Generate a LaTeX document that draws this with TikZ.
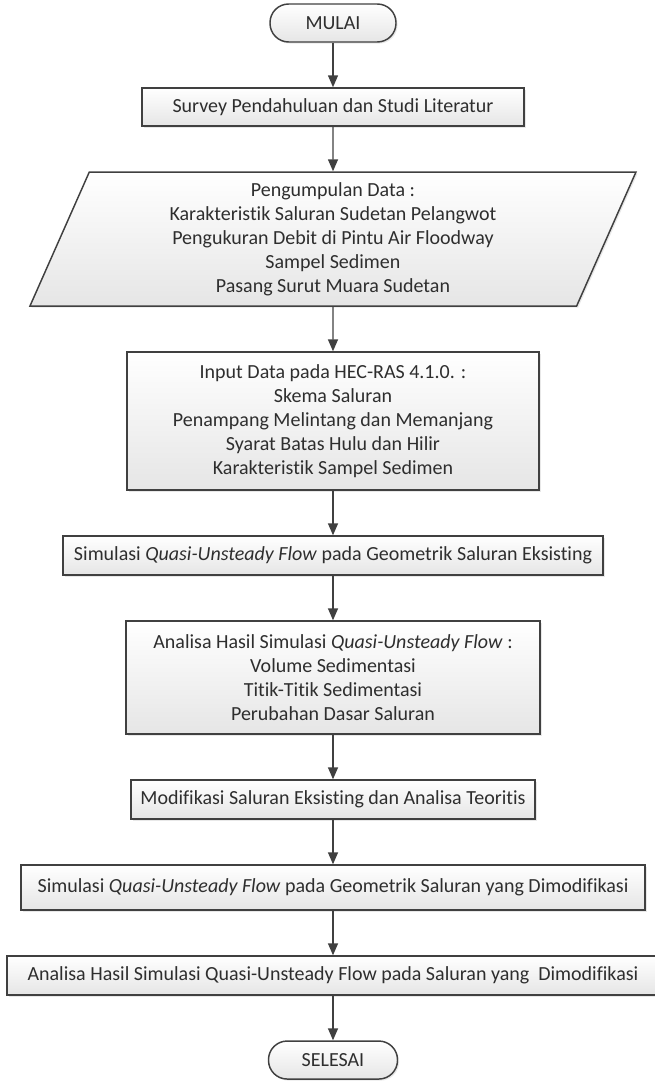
\documentclass[tikz,border=0pt]{standalone}
\usepackage{fontspec}
\setmainfont{Carlito}[Ligatures={NoCommon}]
\usetikzlibrary{arrows.meta,positioning,shapes.geometric,shadows}
\definecolor{linegray}{HTML}{404040}
\definecolor{textgray}{HTML}{2E2E2E}

\begin{document}
\begin{tikzpicture}[x=0.75pt,y=0.75pt,->,>={Triangle[width=7.5pt,length=9pt]},color=linegray,line width=1.1pt,node distance=33.4pt,
    box/.style={draw=linegray,line width=1.1pt,top color=white,bottom color=black!10,drop shadow={opacity=0.18,shadow xshift=1.2pt,shadow yshift=-1.2pt},text=textgray,font=\fontsize{15}{18}\selectfont,align=center,inner sep=2pt},
    terminal node/.style={box,rectangle,rounded corners=14pt,minimum height=28.5pt},
    process node/.style={box,rectangle},
    data node/.style={box,trapezium,trapezium left angle=63.43,trapezium right angle=116.57,trapezium stretches body}]
        \useasboundingbox (0,0) rectangle (654,-1085);

        \node[terminal node,minimum width=94.5pt] (1) at (333,-23) {MULAI};
        \node[process node,minimum width=286.5pt,minimum height=28.5pt] (2) [below=of 1] {Survey Pendahuluan dan Studi Literatur};
        \node[data node,minimum width=454.5pt,minimum height=100.5pt] (3) [below=of 2] {Pengumpulan Data :\\ Karakteristik Saluran Sudetan Pelangwot\\ Pengukuran Debit di Pintu Air Floodway\\ Sampel Sedimen\\ Pasang Surut Muara Sudetan};
        \node[process node,minimum width=309pt,minimum height=103.5pt] (4) [below=of 3] {Input Data pada HEC-RAS 4.1.0. :\\ Skema Saluran\\ Penampang Melintang dan Memanjang\\ Syarat Batas Hulu dan Hilir\\ Karakteristik Sampel Sedimen};
        \node[process node,minimum width=405pt,minimum height=29.25pt] (5) [below=of 4] {Simulasi \textit{Quasi-Unsteady Flow} pada Geometrik Saluran Eksisting};
        \node[process node,minimum width=310.5pt,minimum height=84.75pt] (6) [below=of 5] {Analisa Hasil Simulasi \textit{Quasi-Unsteady Flow} :\\ Volume Sedimentasi\\ Titik-Titik Sedimentasi\\ Perubahan Dasar Saluran};
        \node[process node,minimum width=303pt,minimum height=29.25pt] (7) [below=of 6] {Modifikasi Saluran Eksisting dan Analisa Teoritis};
        \node[process node,minimum width=468pt,minimum height=33.75pt] (8) [below=of 7] {Simulasi \textit{Quasi-Unsteady Flow} pada Geometrik Saluran yang Dimodifikasi};
        \node[process node,minimum width=489pt,minimum height=29.25pt] (9) [below=of 8] {Analisa Hasil Simulasi Quasi-Unsteady Flow pada Saluran yang\ \ Dimodifikasi};
        \node[terminal node,minimum width=96.75pt] (10) [below=of 9] {SELESAI};

        \path
            (1) edge (2)
            (2) edge (3)
            (3) edge (4)
            (4) edge (5)
            (5) edge (6)
            (6) edge (7)
            (7) edge (8)
            (8) edge (9)
            (9) edge (10);
    \end{tikzpicture}
\end{document}
